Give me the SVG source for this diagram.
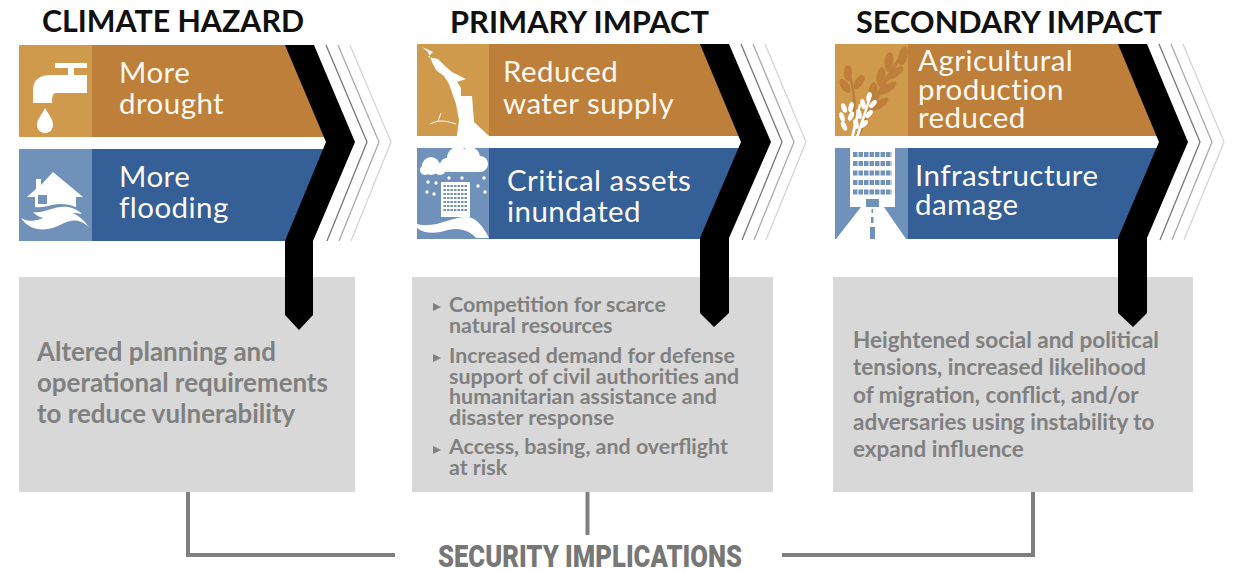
<svg xmlns="http://www.w3.org/2000/svg" width="1238" height="572" viewBox="0 0 1238 572">
<style>
text{font-family:Lato,"Liberation Sans",sans-serif}
.h{font-size:30.500px;font-weight:700;fill:#111}
.t{font-size:29.500px;fill:#fdf8f0;letter-spacing:.45px}
.b{font-size:25.900px;font-weight:700;fill:#808080}
.s{font-size:21.400px;font-weight:700;fill:#808080}
.s3{font-size:22.500px;font-weight:700;fill:#808080}
.o{fill:#bd7f3a}.oi{fill:#d09a4c}.bl{fill:#345f97}.bi{fill:#7091ba}
.box{fill:#d8d8d8}.ch{fill:#000}.w{fill:#fff}
.l1,.l2,.l3{fill:none;stroke-width:1.300}
.l1{stroke:#777}.l2{stroke:#aaa}.l3{stroke:#d5d5d5}
.c{fill:none;stroke:#7f7f7f;stroke-width:4}
.tri{fill:#808080}
.win{fill:none;stroke:#7091ba;stroke-width:5;stroke-dasharray:4.500 1}
.win2{fill:none;stroke:#7091ba;stroke-width:2.200;stroke-dasharray:2.500 1}
</style>
<g id="connectors">
<path class="c" d="M188 492V555H395"/>
<path class="c" d="M587.500 492V535"/>
<path class="c" d="M1033 492V555H782"/>
</g>
<g id="col1">
<text class="h" x="42" y="32" textLength="262" lengthAdjust="spacingAndGlyphs">CLIMATE HAZARD</text>
<rect class="box" x="19" y="277" width="336" height="215"/>
<path class="o" d="M19 45H290L330 137H19z"/><rect class="oi" x="19" y="45" width="73" height="92"/>
<path class="bl" d="M19 149H330L290 241H19z"/><rect class="bi" x="19" y="149" width="73" height="92"/>
<path class="l1" d="M326 45L367 142L327 241"/><path class="l2" d="M338 45L379 142L339 241"/><path class="l3" d="M350 45L391 142L351 241"/>
<path class="ch" d="M285 45H314L355 142L313 241V315L299 330L285 315V241L326 142z"/>
<path class="w" d="M55 63H87V68H74V75H87V93H56C53 93 52 96 52 103H33V90C33 79 41 75 51 75H68V68H55z"/>
<path class="w" d="M45 108C49 115 53 119 53 125C53 130 49 133 45 133C41 133 37 130 37 125C37 119 42 115 45 108z"/>
<path class="w" d="M53 172L83 197H76V207C68 204 60 203 52 205C47 206 41 208 35 207V197H27L36 189V179H41V185z"/>
<rect class="bi" x="38" y="195" width="9" height="9"/>
<path class="w" d="M21 218C35 226 46 215 58 212C68 209 80 214 89 227C78 218 71 220 62 224C48 232 30 232 21 218z"/>
<path class="w" d="M33 212C44 214 55 205 68 207C74 208 79 211 82 214C72 212 64 213 56 217C47 220 38 218 33 212z"/>
<text class="t" x="119" y="83">More</text>
<text class="t" x="119" y="114">drought</text>
<text class="t" x="119" y="187">More</text>
<text class="t" x="119" y="218">flooding</text>
<text class="b" x="37" y="361">Altered planning and</text>
<text class="b" x="37" y="392">operational requirements</text>
<text class="b" x="37" y="423">to reduce vulnerability</text>
</g>
<g id="col2">
<text class="h" x="450" y="33" textLength="259" lengthAdjust="spacingAndGlyphs">PRIMARY IMPACT</text>
<rect class="box" x="412" y="277" width="361" height="215"/>
<path class="o" d="M417 44H705L745 136H417z"/><rect class="oi" x="417" y="44" width="72" height="92"/>
<path class="bl" d="M417 148H745L705 239H417z"/><rect class="bi" x="417" y="148" width="72" height="91"/>
<path class="l1" d="M741 44L782 142L742 240"/><path class="l2" d="M753 44L794 142L754 240"/><path class="l3" d="M765 44L806 142L766 240"/>
<path class="ch" d="M700 44H729L771 142L729 238V313L714 327L700 313V238L741 142z"/>
<path class="w" d="M422 47L433 52L428 57L438 59L446 67L452 72L466 79L457 82L461 88L461 96L472 96L474 122L489 136L486 142H456L459 120L456 104L449 84L444 76L436 70L432 62L428 52z"/>
<path fill="none" stroke="#fff" stroke-width="1" d="M430 124C438 120 444 120 456 124M438 121L441 113"/>
<g class="w"><circle cx="458" cy="158" r="11"/><circle cx="470" cy="157" r="10"/><circle cx="480" cy="164" r="8"/><circle cx="447" cy="165" r="7"/><rect x="446" y="162" width="36" height="10" rx="5"/><circle cx="431" cy="166" r="9"/><circle cx="425" cy="170" r="5"/><circle cx="440" cy="169" r="6"/></g>
<path class="w" d="M441 182H470V217H441z"/>
<path class="win2" d="M443.500 186H468M443.500 190H468M443.500 194H468M443.500 198H468M443.500 202H468M443.500 206H468M443.500 210H468"/>
<path class="w" d="M417 224C436 229 452 216 468 217C477 218 484 228 489 238H476C470 231 460 227 448 230C438 233 426 235 417 228z"/>
<g class="w"><circle cx="428" cy="182" r="1.700"/><circle cx="436" cy="183" r="1.700"/><circle cx="427" cy="192" r="1.700"/><circle cx="434" cy="194" r="1.700"/><circle cx="484" cy="178" r="1.700"/><circle cx="478" cy="186" r="1.700"/><circle cx="485" cy="192" r="1.700"/><circle cx="449" cy="178" r="1.700"/><circle cx="462" cy="178" r="1.700"/></g>
<text class="t" x="503" y="82">Reduced</text>
<text class="t" x="503" y="114">water supply</text>
<text class="t" x="507" y="191">Critical assets</text>
<text class="t" x="507" y="222">inundated</text>
<path class="tri" d="M433 303l8 4l-8 4z"/>
<text class="s" x="449" y="312">Competition for scarce</text>
<text class="s" x="449" y="333">natural resources</text>
<path class="tri" d="M433 354l8 4l-8 4z"/>
<text class="s" x="449" y="363">Increased demand for defense</text>
<text class="s" x="449" y="384">support of civil authorities and</text>
<text class="s" x="449" y="404">humanitarian assistance and</text>
<text class="s" x="449" y="425">disaster response</text>
<path class="tri" d="M433 446l8 4l-8 4z"/>
<text class="s" x="449" y="454">Access, basing, and overflight</text>
<text class="s" x="449" y="475">at risk</text>
</g>
<g id="col3">
<text class="h" x="856" y="33" textLength="306" lengthAdjust="spacingAndGlyphs">SECONDARY IMPACT</text>
<rect class="box" x="833" y="277" width="360" height="215"/>
<path class="o" d="M835 44H1123L1163 136H835z"/><rect class="oi" x="835" y="44" width="73" height="92"/>
<path class="bl" d="M835 148H1163L1123 239H835z"/><rect class="bi" x="835" y="148" width="73" height="91"/>
<path class="l1" d="M1159 44L1200 142L1160 240"/><path class="l2" d="M1171 44L1212 142L1172 240"/><path class="l3" d="M1183 44L1224 142L1184 240"/>
<path class="ch" d="M1118 44H1147L1188 142L1147 238V313L1133 327L1118 313V238L1159 142z"/>
<g fill="#bd7f3a"><path d="M856 135C866 112 880 85 900 55L902 57C884 87 870 114 860 136zM852 115C854 100 852 88 848 72L850 72C855 88 857 102 855 115z"/>
<ellipse cx="903" cy="56" rx="4.500" ry="10" transform="rotate(15 903 56)"/><ellipse cx="889" cy="62" rx="4.500" ry="10" transform="rotate(5 889 62)"/><ellipse cx="895" cy="73" rx="4" ry="10" transform="rotate(55 895 73)"/><ellipse cx="881" cy="77" rx="4.500" ry="10" transform="rotate(5 881 77)"/><ellipse cx="888" cy="88" rx="4" ry="10" transform="rotate(55 888 88)"/><ellipse cx="873" cy="92" rx="4.500" ry="10" transform="rotate(5 873 92)"/><ellipse cx="880" cy="104" rx="4" ry="10" transform="rotate(55 880 104)"/>
<ellipse cx="848" cy="73" rx="4" ry="8"/><ellipse cx="859" cy="82" rx="4" ry="8" transform="rotate(35 859 82)"/><ellipse cx="845" cy="86" rx="4" ry="8" transform="rotate(-35 845 86)"/></g>
<g fill="#fff"><path d="M851 136L859 104L861 105L854 136zM856 136L868 100L870 101L859 136z"/><ellipse cx="844" cy="108" rx="2.500" ry="5" transform="rotate(-20 844 108)"/><ellipse cx="851" cy="107" rx="2.500" ry="5" transform="rotate(15 851 107)"/><ellipse cx="842" cy="117" rx="2.500" ry="5" transform="rotate(-20 842 117)"/><ellipse cx="851" cy="116" rx="2.500" ry="5" transform="rotate(25 851 116)"/><ellipse cx="844" cy="126" rx="2.500" ry="5" transform="rotate(-25 844 126)"/><ellipse cx="869" cy="97" rx="2.500" ry="5" transform="rotate(15 869 97)"/><ellipse cx="863" cy="104" rx="2.500" ry="5" transform="rotate(-15 863 104)"/><ellipse cx="873" cy="104" rx="2.500" ry="5" transform="rotate(40 873 104)"/><ellipse cx="859" cy="114" rx="2.500" ry="5" transform="rotate(-15 859 114)"/><ellipse cx="869" cy="114" rx="2.500" ry="5" transform="rotate(40 869 114)"/><ellipse cx="856" cy="124" rx="2.500" ry="5" transform="rotate(-15 856 124)"/><ellipse cx="864" cy="124" rx="2.500" ry="5" transform="rotate(45 864 124)"/></g>
<path class="w" d="M850 148H895V207H850z"/>
<path class="win" d="M853 154.500h39M853 163.500h39M853 173h39M853 182.500h39M853 192h39"/>
<path class="bi" d="M866 199h13v8h-13z"/>
<path class="w" d="M861 207H884L906 239H836z"/>
<path class="bi" d="M871.500 209h1.500v4h-1.500zM871 217h2.500v6H871zM870 227h5v12h-5z"/>
<text class="t" x="918" y="71">Agricultural</text>
<text class="t" x="918" y="100">production</text>
<text class="t" x="918" y="128">reduced</text>
<text class="t" x="915" y="186">Infrastructure</text>
<text class="t" x="915" y="215">damage</text>
<text class="s3" x="853" y="348">Heightened social and political</text>
<text class="s3" x="853" y="375">tensions, increased likelihood</text>
<text class="s3" x="853" y="403">of migration, conflict, and/or</text>
<text class="s3" x="853" y="430">adversaries using instability to</text>
<text class="s3" x="853" y="457">expand influence</text>
</g>
<g id="security-implications">
<text x="438" y="567" textLength="304" lengthAdjust="spacingAndGlyphs" style="font-family:Roboto,'Liberation Sans',sans-serif;font-size:31px;font-weight:900;fill:#777">SECURITY IMPLICATIONS</text>
</g>
</svg>
